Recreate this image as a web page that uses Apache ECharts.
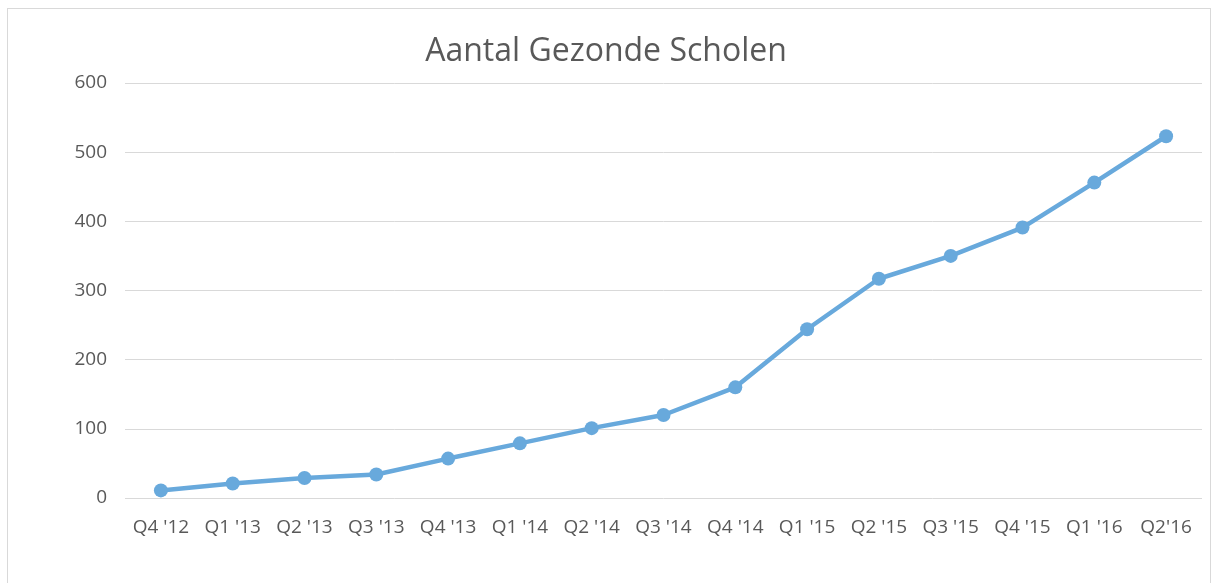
<!DOCTYPE html>
<html>
<head>
<meta charset="utf-8">
<script src="https://cdn.jsdelivr.net/npm/echarts@6/dist/echarts.min.js"></script>
<style>
  html, body { margin: 0; padding: 0; background: #fff; }
  #frame { position: absolute; left: 7px; top: 8px; width: 1204px; height: 590px; border: 1px solid #d9d9d9; box-sizing: border-box; }
  #chart { position: absolute; left: 0; top: 0; width: 1212px; height: 583px; }
</style>
</head>
<body>
<div id="frame"></div>
<div id="chart"></div>
<script>
const quarters = ["Q4 '12", "Q1 '13", "Q2 '13", "Q3 '13", "Q4 '13", "Q1 '14", "Q2 '14", "Q3 '14",
  "Q4 '14", "Q1 '15", "Q2 '15", "Q3 '15", "Q4 '15", "Q1 '16", "Q2'16"]
const schools = [11, 21, 29, 34, 57, 79, 101, 120, 160, 244, 317, 350, 391, 456, 523]
const yTicks = [0, 100, 200, 300, 400, 500, 600]

const textColor = '#595959'
const font = "'Open Sans', 'Noto Sans', sans-serif"

const chart = echarts.init(document.getElementById('chart'))
chart.setOption({
  animation: false,
  title: {
    text: 'Aantal Gezonde Scholen',
    left: 'center',
    top: 31,
    textStyle: { color: textColor, fontFamily: font, fontSize: 32, fontWeight: 'normal' },
  },
  grid: { left: 125, right: 10, top: 83, bottom: 85 },
  xAxis: {
    type: 'category',
    data: quarters,
    boundaryGap: true,
    axisLine: { show: false },
    axisTick: { show: false },
    axisLabel: { color: textColor, fontFamily: font, fontSize: 19, margin: 20, interval: 0 },
  },
  yAxis: {
    type: 'value',
    min: yTicks[0],
    max: yTicks[yTicks.length - 1],
    interval: 100,
    axisLine: { show: false },
    axisTick: { show: false },
    axisLabel: { color: textColor, fontFamily: font, fontSize: 19, margin: 18 },
    splitLine: { lineStyle: { color: '#d9d9d9', width: 1 } },
  },
  series: [
    {
      type: 'line',
      data: schools,
      symbol: 'circle',
      symbolSize: 14,
      lineStyle: { color: '#68a9dc', width: 4.5 },
      itemStyle: { color: '#68a9dc' },
    },
  ],
})
</script>
</body>
</html>
